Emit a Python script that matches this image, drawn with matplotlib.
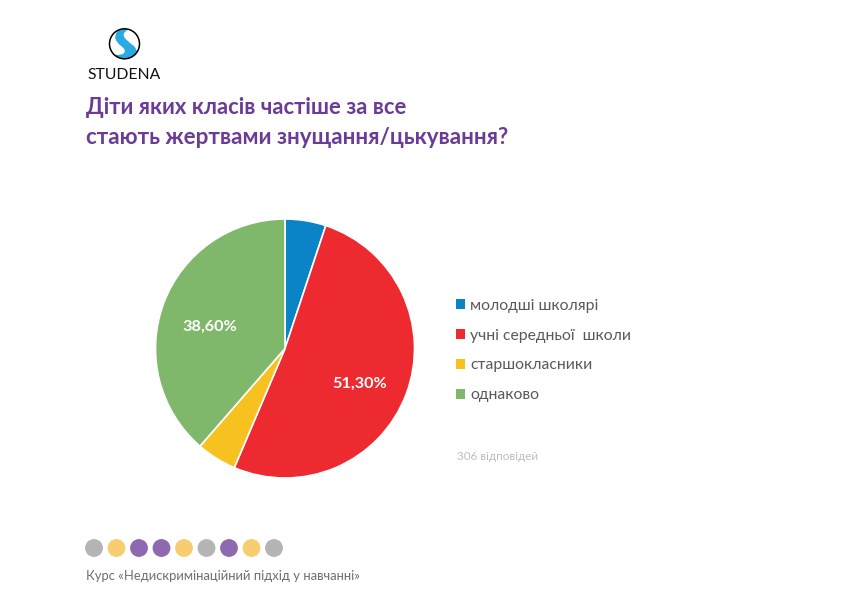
import matplotlib
matplotlib.use('Agg')
import matplotlib.pyplot as plt
from matplotlib.patches import Circle, PathPatch
from matplotlib.path import Path

plt.rcParams['font.family'] = ['Lato', 'Open Sans', 'DejaVu Sans']

categories = ['молодші школярі', 'учні середньої  школи', 'старшокласники', 'однаково']
values = [5.1, 51.3, 5.0, 38.6]
colors = ['#0A84C6', '#EC2A30', '#F7C120', '#7FB76B']
shown_labels = {1: '51,30%', 3: '38,60%'}
title_lines = ['Діти яких класів частіше за все', 'стають жертвами знущання/цькування?']
dot_colors = ['#B4B4B4', '#F8CD70', '#8E69B0', '#8E69B0', '#F8CD70', '#B4B4B4', '#8E69B0', '#F8CD70', '#B4B4B4']
W, H = 842, 595

fig = plt.figure(figsize=(W / 100, H / 100), dpi=100, facecolor='white')
bg = fig.add_axes([0, 0, 1, 1])
bg.set_xlim(0, W)
bg.set_ylim(H, 0)
bg.axis('off')

# pie
cx, cy, r = 285, 348.5, 129.5
ax = fig.add_axes([(cx - r) / W, 1 - (cy + r) / H, 2 * r / W, 2 * r / H])
wedges, _ = ax.pie(values, colors=colors, startangle=90, counterclock=False, radius=1,
                   wedgeprops=dict(edgecolor='white', linewidth=1.2))
ax.set_xlim(-1, 1)
ax.set_ylim(-1, 1)
ax.text(0.58, -0.275, shown_labels[1], color='white', fontsize=11.7, fontweight='bold', ha='center', va='center')
ax.text(-0.58, 0.165, shown_labels[3], color='white', fontsize=11.7, fontweight='bold', ha='center', va='center')

# legend
leg = fig.legend(wedges, categories, loc='upper left', bbox_to_anchor=(451 / W, 1 - 294 / H),
                 bbox_transform=fig.transFigure, frameon=False, fontsize=11.3, labelcolor='#595959',
                 handlelength=0.57, handleheight=0.57, handletextpad=0.36, labelspacing=1.01,
                 borderpad=0.3, borderaxespad=0)
for h in leg.get_patches():
    h.set_edgecolor('none')

bg.text(457, 457, '306 відповідей', color='#BDBDBD', fontsize=8.4, va='center', ha='left')

# title
bg.text(86, 107, title_lines[0], color='#6B3B96', fontsize=15.8, fontweight='bold', va='center', ha='left')
bg.text(86, 137, title_lines[1], color='#6B3B96', fontsize=16.1, fontweight='bold', va='center', ha='left')

# footer
bg.scatter([94 + 22.5 * i for i in range(len(dot_colors))], [548] * len(dot_colors),
           s=165, c=dot_colors, linewidths=0)
bg.text(86, 576, 'Курс «Недискримінаційний підхід у навчанні»', color='#6E6E6E', fontsize=9.35, va='center', ha='left')

# logo
lx, ly, lr = 124.5, 43.8, 15
clip = Circle((lx, ly), lr, facecolor='white', edgecolor='none', zorder=2)
bg.add_patch(clip)
verts = [(119.3, 29), (114, 35), (115.5, 39), (117, 43), (120.5, 45.5), (126, 49.5), (124.5, 52.5),
         (122, 55.5), (115.5, 54.8), (118, 62), (130, 62), (140, 60), (137.5, 53),
         (136.5, 49), (134, 46), (128.5, 42.5), (124.5, 37.5), (121.5, 33), (128.5, 29.5), (124, 27), (119.3, 29)]
codes = [Path.MOVETO] + [Path.CURVE3, Path.CURVE3] * 10
river = PathPatch(Path(verts, codes), facecolor='#29ABE2', edgecolor='none', zorder=3)
bg.add_patch(river)
river.set_clip_path(clip)
bg.add_patch(Circle((lx, ly), lr, facecolor='none', edgecolor='black', linewidth=1.1, zorder=4))
bg.text(124.5, 75, 'STUDENA', color='#111111', fontsize=11.3, va='center', ha='center')

fig.savefig('out.png', dpi=100)
